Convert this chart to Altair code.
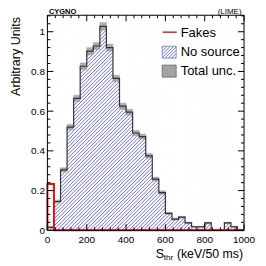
import altair as alt
import pandas as pd

# ---------------- data ----------------
n_bins = 30
x_lo, x_hi = 0.0, 1000.0
no_source = [0.015, 0.145, 0.304, 0.520, 0.664, 0.826, 0.902, 0.928, 1.027, 0.920,
             0.765, 0.625, 0.595, 0.490, 0.472, 0.375, 0.258, 0.190, 0.085, 0.056,
             0.066, 0.037, 0.018, 0.018, 0.037, 0.000, 0.000, 0.037, 0.018, 0.000]
tot_unc = [0.004, 0.008, 0.011, 0.014, 0.016, 0.017, 0.018, 0.018, 0.019, 0.018,
           0.016, 0.015, 0.015, 0.013, 0.013, 0.012, 0.010, 0.009, 0.006, 0.005,
           0.005, 0.004, 0.003, 0.003, 0.004, 0.000, 0.000, 0.004, 0.003, 0.000]
fakes = [0.233] + [0.0] * 29

x_major = [0, 200, 400, 600, 800, 1000]
x_labels = ["0", "200", "400", "600", "800", "1000"]
x_minor = [v for v in range(0, 1001, 40) if v % 200 != 0]
y_major = [0, 0.2, 0.4, 0.6, 0.8, 1.0]
y_labels = ["0", "0.2", "0.4", "0.6", "0.8", "1"]
y_minor = [round(0.04 * i, 2) for i in range(0, 28) if i % 5 != 0]

y_max = 1.083
W, H = 197, 215.5
FONT = "Liberation Sans"
HATCH = "#5c5ce8"

edges = [x_lo + (x_hi - x_lo) * i / n_bins for i in range(n_bins + 1)]

bins = pd.DataFrame({"lo": edges[:-1], "hi": edges[1:], "v": no_source, "e": tot_unc})
bins["top"] = y_max
bins["elo"] = [max(v - e, 0) for v, e in zip(no_source, tot_unc)]
bins["ehi"] = [v + e for v, e in zip(no_source, tot_unc)]
err_bins = bins[bins["e"] > 0]


def step_points(vals):
    xs_ = [edges[0]] + edges[:-1] + [edges[-1]]
    ys_ = [0.0] + list(vals) + [0.0]
    return pd.DataFrame({"x": xs_, "y": ys_, "o": list(range(len(xs_)))})


hist_pts = step_points(no_source)
fake_pts = step_points(fakes)

xs = alt.Scale(domain=[x_lo, x_hi], nice=False, zero=False)
ys = alt.Scale(domain=[0, y_max], nice=False, zero=True)


# ---------- hatch texture (style only: "/" lines inside a pixel box) ----------
def hatch_lines(bx0, by0, bx1, by1, step):
    rows = []
    k = bx0 + by0 + step / 2
    while k < bx1 + by1:
        xa = max(bx0, k - by1)
        xb = min(bx1, k - by0)
        if xb > xa:
            rows.append({"hx": xa, "hy": k - xa, "hx2": xb, "hy2": k - xb})
        k += step
    return alt.Chart(pd.DataFrame(rows)).mark_rule(
        color=HATCH, strokeWidth=0.9
    ).encode(
        x=alt.X("hx:Q", scale=None, axis=None), y=alt.Y("hy:Q", scale=None, axis=None),
        x2="hx2:Q", y2="hy2:Q")


hatch_main = hatch_lines(0, 0, W, H, 3.6)

# white cover above each bin (hides hatch outside the filled histogram)
cover = alt.Chart(bins).mark_rect(
    fill="white", stroke="white", strokeWidth=0.6
).encode(
    x=alt.X("lo:Q", scale=xs, axis=None), x2="hi:Q",
    y=alt.Y("v:Q", scale=ys, axis=None), y2="top:Q")

band = alt.Chart(err_bins).mark_rect(
    fill="#9a9a9a", opacity=0.8, stroke="#808080", strokeWidth=0.4
).encode(
    x=alt.X("lo:Q", scale=xs, axis=None), x2="hi:Q",
    y=alt.Y("elo:Q", scale=ys, axis=None), y2="ehi:Q")

outline = alt.Chart(hist_pts).mark_line(
    interpolate="step-after", color="#333333", strokeWidth=1.2
).encode(x=alt.X("x:Q", scale=xs, axis=None), y=alt.Y("y:Q", scale=ys, axis=None),
         order="o:Q")

fake_line = alt.Chart(fake_pts).mark_line(
    interpolate="step-after", color="#ee1111", strokeWidth=2
).encode(x=alt.X("x:Q", scale=xs, axis=None), y=alt.Y("y:Q", scale=ys, axis=None),
         order="o:Q")


# ---------- inward ticks ----------
def xticks(vals, length):
    d = pd.DataFrame({"t": vals})
    bot = alt.Chart(d).mark_rule(color="black", strokeWidth=1).encode(
        x=alt.X("t:Q", scale=xs, axis=None), y=alt.value(H), y2=alt.value(H - length))
    top = alt.Chart(d).mark_rule(color="black", strokeWidth=1).encode(
        x=alt.X("t:Q", scale=xs, axis=None), y=alt.value(0), y2=alt.value(length))
    return bot + top


def yticks(vals, length):
    d = pd.DataFrame({"t": vals})
    left = alt.Chart(d).mark_rule(color="black", strokeWidth=1).encode(
        y=alt.Y("t:Q", scale=ys, axis=None), x=alt.value(0), x2=alt.value(length))
    right = alt.Chart(d).mark_rule(color="black", strokeWidth=1).encode(
        y=alt.Y("t:Q", scale=ys, axis=None), x=alt.value(W), x2=alt.value(W - length))
    return left + right


ticks = xticks(x_major, 6) + xticks(x_minor, 3) + yticks(y_major, 6) + yticks(y_minor, 3)

# tick labels
xlab = alt.Chart(pd.DataFrame({"t": x_major, "s": x_labels})).mark_text(
    align="center", baseline="alphabetic", fontSize=10, font=FONT, color="black"
).encode(x=alt.X("t:Q", scale=xs, axis=None), y=alt.value(228), text="s:N")
ylab = alt.Chart(pd.DataFrame({"t": y_major, "s": y_labels})).mark_text(
    align="right", baseline="alphabetic", fontSize=10, font=FONT, color="black", dy=3.6
).encode(y=alt.Y("t:Q", scale=ys, axis=None), x=alt.value(-2.5), text="s:N")

one = pd.DataFrame({"a": [0]})
frame = alt.Chart(one).mark_rect(filled=False, stroke="black", strokeWidth=1).encode(
    x=alt.value(0), x2=alt.value(W), y=alt.value(0), y2=alt.value(H))

# ---------- legend ----------
leg_names = ["Fakes", "No source", "Total unc."]
leg_base = [21.7, 40.7, 60.0]

leg_text = alt.Chart(pd.DataFrame({"name": leg_names, "yb": leg_base})).mark_text(
    align="left", baseline="alphabetic", fontSize=13, font=FONT, color="black"
).encode(x=alt.value(133.5), y=alt.Y("yb:Q", scale=None, axis=None), text="name:N")

leg_fake = alt.Chart(one).mark_rule(color="#e03030", strokeWidth=1.6).encode(
    x=alt.value(115.5), x2=alt.value(129.5), y=alt.value(17), y2=alt.value(17))
leg_ns_hatch = hatch_lines(115, 31, 129, 43, 3.3)
leg_ns_box = alt.Chart(one).mark_rect(
    filled=False, stroke="#7777bb", strokeWidth=0.8
).encode(x=alt.value(115), x2=alt.value(129), y=alt.value(31), y2=alt.value(43))
leg_tu = alt.Chart(one).mark_rect(
    fill="#9a9a9a", opacity=0.9, stroke="#555555", strokeWidth=0.8
).encode(x=alt.value(115), x2=alt.value(129), y=alt.value(50), y2=alt.value(62))


# ---------- texts ----------
def txt(s, x, y, size, align="left", weight="normal", angle=0):
    kw = dict(align=align, baseline="alphabetic", fontSize=size, font=FONT,
              color="black", fontWeight=weight, text=s)
    if angle:
        kw["angle"] = angle
    return alt.Chart(one).mark_text(**kw).encode(x=alt.value(x), y=alt.value(y))


texts = (
    txt("CYGNO", 1.5, -1.2, 7.5, weight="bold")
    + txt("(LIME)", 194.5, -1.2, 8, align="right")
    + txt("(keV/50 ms)", 196, 243, 12.3, align="right")
    + txt("thr", 126, 245.5, 8, align="right")
    + txt("S", 117, 243, 12.5, align="right")
    + txt("Arbitrary Units", -27, 1.7, 12.5, align="right", angle=270)
)

chart = alt.layer(
    hatch_main, cover, band, outline, fake_line, ticks, frame, xlab, ylab,
    leg_fake, leg_ns_hatch, leg_ns_box, leg_tu, leg_text, texts
).properties(
    width=W, height=H,
    autosize=alt.AutoSizeParams(type="none"),
    padding={"left": 39.5, "top": 7, "right": 14, "bottom": 31},
).configure_view(stroke=None)

chart.save("out.html", embed_options={"renderer": "svg", "actions": False})
